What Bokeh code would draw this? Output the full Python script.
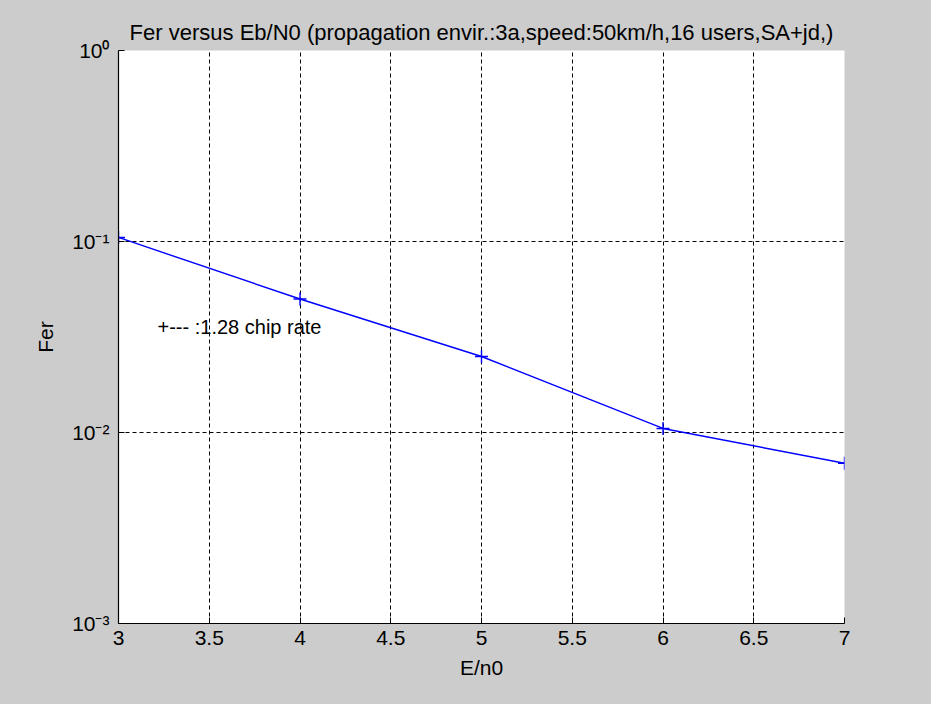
from bokeh.plotting import figure
from bokeh.models import Range1d, FixedTicker, Label
from bokeh.embed import file_html
from bokeh.resources import INLINE

# ---- data ----
ebn0 = [3, 4, 5, 6, 7]
fer = [0.105, 0.05, 0.025, 0.0105, 0.0069]
x_ticks = [3, 3.5, 4, 4.5, 5, 5.5, 6, 6.5, 7]
y_ticks = [1, 0.1, 0.01, 0.001]
y_tick_labels = ["10\u2070", "10\u207b\u00b9", "10\u207b\u00b2", "10\u207b\u00b3"]
title_text = "Fer versus Eb/N0 (propagation envir.:3a,speed:50km/h,16 users,SA+jd,)"
x_label = "E/n0"
y_label = "Fer"
legend_text = "+--- :1.28 chip rate"

FONT = "Liberation Sans"
FS = "21px"
BG = "#cccccc"

p = figure(width=915, height=688, output_backend="svg", toolbar_location=None,
           x_range=Range1d(3, 7), y_range=Range1d(0.001, 1), y_axis_type="log",
           min_border_left=118, min_border_right=71, min_border_top=50, min_border_bottom=65,
           background_fill_color="white", border_fill_color=BG, outline_line_color=None)

p.title.text = title_text
p.title.align = "center"
p.title.offset = 5
p.title.text_font = FONT
p.title.text_font_size = "22px"
p.title.text_font_style = "normal"
p.title.text_color = "black"
p.title.standoff = 12

p.xaxis.ticker = FixedTicker(ticks=x_ticks)
p.yaxis.ticker = FixedTicker(ticks=y_ticks)
p.yaxis.major_label_overrides = {t: l for t, l in zip(y_ticks, y_tick_labels)}

for ax in (p.xaxis, p.yaxis):
    ax.axis_line_color = "black"
    ax.axis_line_width = 1.2
    ax.major_tick_in = 6
    ax.major_tick_out = 0
    ax.minor_tick_line_color = None
    ax.major_tick_line_color = "black"
    ax.major_label_text_font = FONT
    ax.major_label_text_font_size = FS
    ax.major_label_text_color = "black"
    ax.axis_label_text_font = FONT
    ax.axis_label_text_font_size = FS
    ax.axis_label_text_font_style = "normal"
    ax.axis_label_text_color = "black"

p.xaxis.axis_label = x_label
p.yaxis.axis_label = y_label
p.xaxis.major_label_standoff = 7
p.xaxis.axis_label_standoff = 8
p.yaxis.major_label_standoff = 9
p.yaxis.axis_label_standoff = 12

for g in (p.xgrid, p.ygrid):
    g.grid_line_color = "black"
    g.grid_line_dash = "4 3"
    g.grid_line_width = 1
    g.grid_line_alpha = 1.0
p.ygrid.minor_grid_line_color = None

p.line(ebn0, fer, line_color="#0000ff", line_width=1.4)
p.scatter(ebn0, fer, marker="cross", size=13, line_color="#0000ff", line_width=1.4)

p.add_layout(Label(x=3.215, y=0.0355, text=legend_text, text_font=FONT,
                   text_font_size="20px", text_baseline="middle", text_color="black"))

html = file_html(p, INLINE)
style = "<style>html, body { background-color: %s; }</style>" % BG
html = html.replace("</head>", style + "</head>", 1)
open("out.html", "w").write(html)
